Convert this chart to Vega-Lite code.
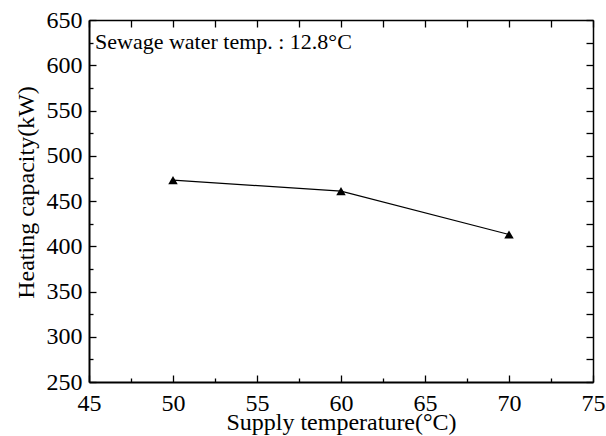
{
  "$schema": "https://vega.github.io/schema/vega-lite/v6.json",
  "width": 606,
  "height": 436,
  "autosize": {"type": "fit", "contains": "padding"},
  "padding": {"left": 14, "top": 8, "right": 1, "bottom": 2},
  "background": "white",
  "config": {
    "font": "Liberation Serif",
    "view": {"stroke": null},
    "axis": {
      "domainColor": "black",
      "domainWidth": 1.5,
      "tickColor": "black",
      "tickWidth": 1.3,
      "tickSize": -7,
      "grid": false,
      "labelColor": "black",
      "titleColor": "black",
      "titleFont": "Liberation Serif",
      "titleFontWeight": "normal"
    }
  },
  "datasets": {
    "capacity": [
      {"supply": 50, "heating": 473},
      {"supply": 60, "heating": 461},
      {"supply": 70, "heating": 413}
    ],
    "note": [
      {"supply": 45, "heating": 626, "text": "Sewage water temp. : 12.8°C"}
    ]
  },
  "resolve": {"axis": {"x": "independent", "y": "independent"}},
  "layer": [
    {
      "data": {"name": "capacity"},
      "mark": {"type": "line", "color": "black", "strokeWidth": 1.2},
      "encoding": {
        "x": {
          "field": "supply", "type": "quantitative",
          "scale": {"domain": [45, 75], "nice": false, "zero": false},
          "axis": {
            "orient": "bottom",
            "title": "Supply temperature(°C)",
            "values": [45, 50, 55, 60, 65, 70, 75],
            "format": "d",
            "labelFont": "Liberation Serif",
            "labelFontSize": 24,
            "labelBaseline": "top",
            "labelPadding": 16,
            "labelFlush": false,
            "titleFontSize": 24,
            "titleBaseline": "alphabetic",
            "titleAlign": "center",
            "titleX": 252,
            "titleY": 47,
            "domainWidth": 2
          }
        },
        "y": {
          "field": "heating", "type": "quantitative",
          "scale": {"domain": [250, 650], "nice": false, "zero": false},
          "axis": {
            "orient": "left",
            "title": "Heating capacity(kW)",
            "values": [250, 300, 350, 400, 450, 500, 550, 600, 650],
            "format": "d",
            "labelFont": "Liberation Serif",
            "labelFontSize": 24,
            "labelPadding": 14,
            "labelFlush": false,
            "titleFontSize": 24,
            "titleAngle": -90,
            "titleBaseline": "alphabetic",
            "titleAlign": "center",
            "titleX": -56,
            "titleY": 172,
            "domainWidth": 2
          }
        }
      }
    },
    {
      "data": {"name": "capacity"},
      "mark": {"type": "point", "shape": "triangle-up", "filled": true, "color": "black", "opacity": 1, "size": 90},
      "encoding": {
        "x": {
          "field": "supply", "type": "quantitative",
          "axis": {
            "orient": "top",
            "title": null,
            "labels": false,
            "values": [45, 47.5, 50, 52.5, 55, 57.5, 60, 62.5, 65, 67.5, 70, 72.5, 75],
            "encode": {"ticks": {"update": {"y2": {"signal": "datum.value % 5 === 0 ? 7 : 4"}}}}
          }
        },
        "y": {
          "field": "heating", "type": "quantitative",
          "axis": {
            "orient": "right",
            "title": null,
            "labels": false,
            "values": [250, 275, 300, 325, 350, 375, 400, 425, 450, 475, 500, 525, 550, 575, 600, 625, 650],
            "encode": {"ticks": {"update": {"x2": {"signal": "datum.value % 50 === 0 ? -7 : -4"}}}}
          }
        }
      }
    },
    {
      "data": {"name": "note"},
      "mark": {"type": "text", "align": "left", "baseline": "middle", "dx": 6, "fontSize": 22, "color": "black", "font": "Liberation Serif"},
      "encoding": {
        "x": {
          "field": "supply", "type": "quantitative",
          "axis": {
            "orient": "bottom",
            "title": null,
            "labels": false,
            "domain": false,
            "tickSize": -4,
            "values": [47.5, 52.5, 57.5, 62.5, 67.5, 72.5]
          }
        },
        "y": {
          "field": "heating", "type": "quantitative",
          "axis": {
            "orient": "left",
            "title": null,
            "labels": false,
            "domain": false,
            "tickSize": -4,
            "values": [275, 325, 375, 425, 475, 525, 575, 625]
          }
        },
        "text": {"field": "text"}
      }
    }
  ]
}
